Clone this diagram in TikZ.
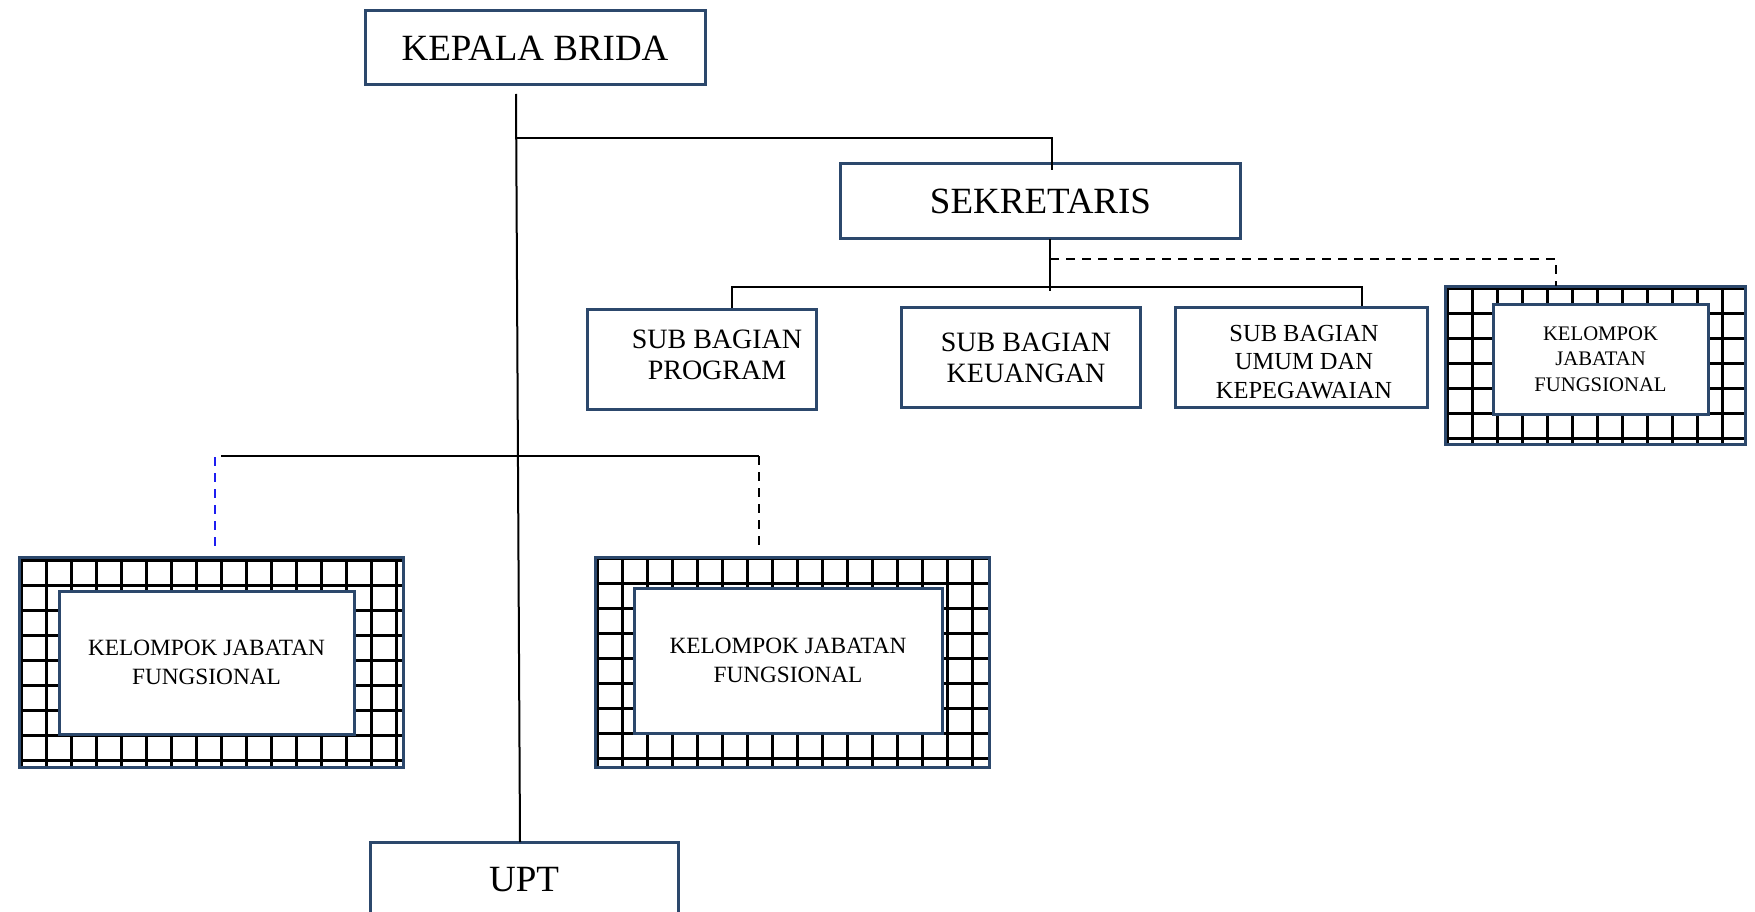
\documentclass[tikz,border=0pt]{standalone}
\usepackage{fontspec}
\setmainfont{Liberation Serif}
\usetikzlibrary{calc}
\definecolor{boxblue}{RGB}{44,72,108}
\definecolor{dashblue}{RGB}{30,30,240}
\begin{document}
\begin{tikzpicture}[x=1pt,y=-1pt,
  box/.style={draw=boxblue, line width=3pt, fill=white, rectangle, inner sep=0pt, align=center},
  frame/.style={draw=boxblue, line width=3pt, rectangle, inner sep=0pt},
  txt/.style={inner sep=0pt, align=center},
  conn/.style={line width=2pt, black},
  dconn/.style={conn, dash pattern=on 9pt off 7pt},
  gridline/.style={line width=3pt, black},
  bigfont/.style={font=\fontsize{37}{44}\selectfont},
  subfont/.style={font=\fontsize{28}{31}\selectfont},
  umfont/.style={font=\fontsize{24.5}{28.3}\selectfont},
  kjffont/.style={font=\fontsize{23.3}{29.5}\selectfont},
  kjfsmall/.style={font=\fontsize{20.7}{25.3}\selectfont}
]
\useasboundingbox (0,0) rectangle (1755,912);

% main boxes
\node[box, bigfont, minimum width=340pt, minimum height=74pt] (kepala) at (535,48) {KEPALA BRIDA};
\node[box, bigfont, minimum width=400pt, minimum height=74pt] (sekr) at (1040.5,201) {SEKRETARIS};
\node[box, minimum width=229pt, minimum height=100pt] (prog) at (701.5,359) {};
\node[txt, subfont] (progt) at (717,355) {SUB BAGIAN\\PROGRAM};
\node[box, subfont, minimum width=239pt, minimum height=100pt] (keu) at (1020.5,357) {};
\node[txt, subfont] (keut) at (1026,357.5) {SUB BAGIAN\\KEUANGAN};
\node[box, minimum width=252pt, minimum height=100pt] (umum) at (1301,357) {};
\node[txt, umfont] (umumt) at (1304,362) {SUB BAGIAN\\UMUM DAN\\KEPEGAWAIAN};
\node[box, bigfont, minimum width=308pt, minimum height=76pt] (upt) at (524,880) {UPT};

% grid box right (sekretariat)
\begin{scope}
  \clip (1445,286) rectangle (1745,444);
  \foreach \i in {0,...,11} \draw[gridline] ({1447+25*\i},286) -- ({1447+25*\i},444);
  \foreach \i in {0,...,6} \draw[gridline] (1445,{288+25*\i}) -- (1745,{288+25*\i});
\end{scope}
\node[frame, minimum width=300pt, minimum height=158pt] (kjf3o) at (1595,365) {};
\node[box, kjfsmall, minimum width=215pt, minimum height=110pt] (kjf3) at (1600.5,359) {KELOMPOK\\JABATAN\\FUNGSIONAL};

% grid box left
\begin{scope}
  \clip (19,557) rectangle (403,767);
  \foreach \i in {0,...,15} \draw[gridline] ({21.7+25*\i},557) -- ({21.7+25*\i},767);
  \foreach \i in {0,...,8} \draw[gridline] (19,{560+25*\i}) -- (403,{560+25*\i});
\end{scope}
\node[frame, minimum width=384pt, minimum height=210pt] (kjf1o) at (211,662) {};
\node[box, kjffont, minimum width=295pt, minimum height=143pt] (kjf1) at (206.5,662.5) {KELOMPOK JABATAN\\FUNGSIONAL};

% grid box middle
\begin{scope}
  \clip (595,557) rectangle (989,767);
  \foreach \i in {0,...,15} \draw[gridline] ({597.3+25*\i},557) -- ({597.3+25*\i},767);
  \foreach \i in {0,...,8} \draw[gridline] (595,{558.3+25*\i}) -- (989,{558.3+25*\i});
\end{scope}
\node[frame, minimum width=394pt, minimum height=210pt] (kjf2o) at (792,662) {};
\node[box, kjffont, minimum width=308pt, minimum height=145pt] (kjf2) at (788,660.5) {KELOMPOK JABATAN\\FUNGSIONAL};

% connectors
\coordinate (k0) at (516,94);
\coordinate (u0) at (520,842);
\draw[conn] (k0) -- (u0);
\coordinate (j1) at (516,138);
\coordinate (s0) at (1052,170);
\draw[conn] (j1) -| (s0);
\coordinate (s1) at (1050,239);
\coordinate (s2) at (1050,291);
\draw[conn] (s1) -- (s2);
\coordinate (h1) at (732,287);
\coordinate (h2) at (1362,287);
\draw[conn] (h1 |- prog.north) -- (h1) -- (h2) -- (h2 |- umum.north);
\coordinate (d1) at (1050,259);
\coordinate (d2) at (1556,286);
\draw[dconn] (d1) -| (d2);
\coordinate (l1) at (221,456);
\coordinate (l2) at (759,456);
\draw[conn] (l1) -- (l2);
\coordinate (b1) at (215,457);
\coordinate (b2) at (215,546);
\draw[dconn, dashblue] (b1) -- (b2);
\coordinate (c2) at (759,550);
\draw[dconn] (l2) -- (c2);
\end{tikzpicture}
\end{document}
